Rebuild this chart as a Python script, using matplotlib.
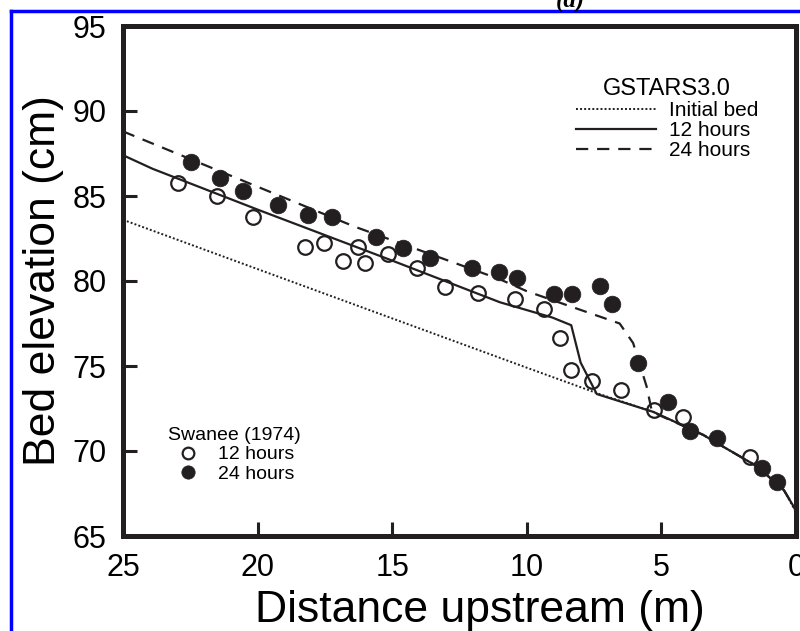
import matplotlib
matplotlib.use("Agg")
import matplotlib.pyplot as plt
from matplotlib.lines import Line2D

plt.rcParams['font.family'] = ['Liberation Sans', 'DejaVu Sans']

# GSTARS3.0 simulated bed profiles (distance upstream in m, elevation in cm)
init_x = [25, 20, 15, 10, 7.3, 5.3, 3.45, 2.7, 1.45, 0.45, 0]
init_y = [83.6, 80.7, 77.8, 74.9, 73.35, 72.3, 70.95, 70.25, 69.1, 67.7, 66.4]

h12_x = [25, 23.9, 20, 15, 11.0, 9.05, 8.35, 8.0, 7.4, 5.3, 3.45, 2.7, 1.45, 0.45, 0]
h12_y = [87.4, 86.6, 84.2, 81.2, 78.75, 77.85, 77.4, 75.2, 73.35, 72.3, 70.95, 70.25, 69.1, 67.7, 66.5]

h24_x = [25, 16.4, 11.0, 10.0, 6.55, 6.05, 5.55, 5.35, 3.45, 2.7, 1.45, 0.45, 0]
h24_y = [88.8, 83.2, 80.1, 79.4, 77.5, 76.35, 73.8, 72.3, 70.95, 70.25, 69.1, 67.7, 66.5]

# Swanee (1974) measurements
obs12_x = [22.95, 21.52, 20.16, 18.24, 17.52, 16.82, 16.28, 16.01, 15.14, 14.09, 13.04,
           11.80, 10.43, 9.35, 8.77, 8.34, 7.57, 6.49, 5.27, 4.20, 1.71]
obs12_y = [85.78, 85.0, 83.78, 82.02, 82.25, 81.18, 81.98, 81.04, 81.59, 80.75, 79.63,
           79.31, 78.93, 78.35, 76.66, 74.76, 74.1, 73.59, 72.43, 72.0, 69.63]

obs24_x = [22.47, 21.40, 20.53, 19.23, 18.14, 17.23, 15.60, 14.59, 13.60, 12.03, 11.05,
           10.37, 8.98, 8.31, 7.28, 6.82, 5.88, 4.76, 3.92, 2.95, 1.28, 0.72]
obs24_y = [87.02, 86.08, 85.31, 84.47, 83.88, 83.75, 82.61, 81.92, 81.33, 80.75, 80.55,
           80.18, 79.24, 79.24, 79.7, 78.65, 75.19, 72.87, 71.2, 70.78, 68.98, 68.19]

ink = '#231f20'

fig = plt.figure(figsize=(8, 6.31), dpi=100)
ax = fig.add_axes([123 / 800, 95 / 631, 673 / 800, 510 / 631])

l_init, = ax.plot(init_x, init_y, color=ink, lw=1.4, linestyle=(0, (1, 1.1)))
l_12, = ax.plot(h12_x, h12_y, color=ink, lw=1.6)
l_24, = ax.plot(h24_x, h24_y, color=ink, lw=1.6, linestyle=(0, (5.5, 4)))

p_12, = ax.plot(obs12_x, obs12_y, 'o', ms=10.5, mfc='none', mec=ink, mew=1.6)
p_24, = ax.plot(obs24_x, obs24_y, 'o', ms=12, mfc=ink, mec=ink, mew=0.5)

ax.set_xlim(25, 0)
ax.set_ylim(65, 95)
ax.set_xticks([25, 20, 15, 10, 5, 0])
ax.set_yticks([65, 70, 75, 80, 85, 90, 95])
ax.tick_params(direction='in', length=10, width=2.2, color=ink, labelsize=22, pad=12)
for s in ax.spines.values():
    s.set_linewidth(3.6)
    s.set_color(ink)

ax.set_xlabel('Distance upstream (m)', fontsize=32)
ax.set_ylabel('Bed elevation (cm)', fontsize=32)
ax.xaxis.set_label_coords(0.53, -0.105)
ax.yaxis.set_label_coords(-0.088, 0.5)

leg1 = ax.legend([l_init, l_12, l_24], ['Initial bed', '12 hours', '24 hours'],
                 title='GSTARS3.0', loc='upper left', bbox_to_anchor=(0.673, 0.898),
                 frameon=False, fontsize=15, title_fontsize=17, handlelength=3.85,
                 handletextpad=0.6, labelspacing=0.05, borderpad=0, borderaxespad=0)
ax.add_artist(leg1)
ax.legend([p_12, p_24], ['12 hours', '24 hours'], title='Swanee (1974)',
          loc='upper left', bbox_to_anchor=(0.067, 0.214), frameon=False,
          fontsize=14, title_fontsize=14, handlelength=1.3, handletextpad=0.9,
          labelspacing=0.1, markerscale=0.8, borderpad=0, borderaxespad=0)

fig.text(0.7125, 1 - 8 / 631, '(a)', ha='center', va='baseline', fontsize=18,
         fontweight='bold', fontstyle='italic', family='Liberation Serif')

# blue frame around the panel
fig.add_artist(Line2D([11 / 800, 1], [1 - 11 / 631] * 2, transform=fig.transFigure,
                      color='#0000ff', lw=2.5))
fig.add_artist(Line2D([11 / 800] * 2, [0, 1 - 11 / 631], transform=fig.transFigure,
                      color='#0000ff', lw=2.5))

fig.savefig('out.png', dpi=100)
